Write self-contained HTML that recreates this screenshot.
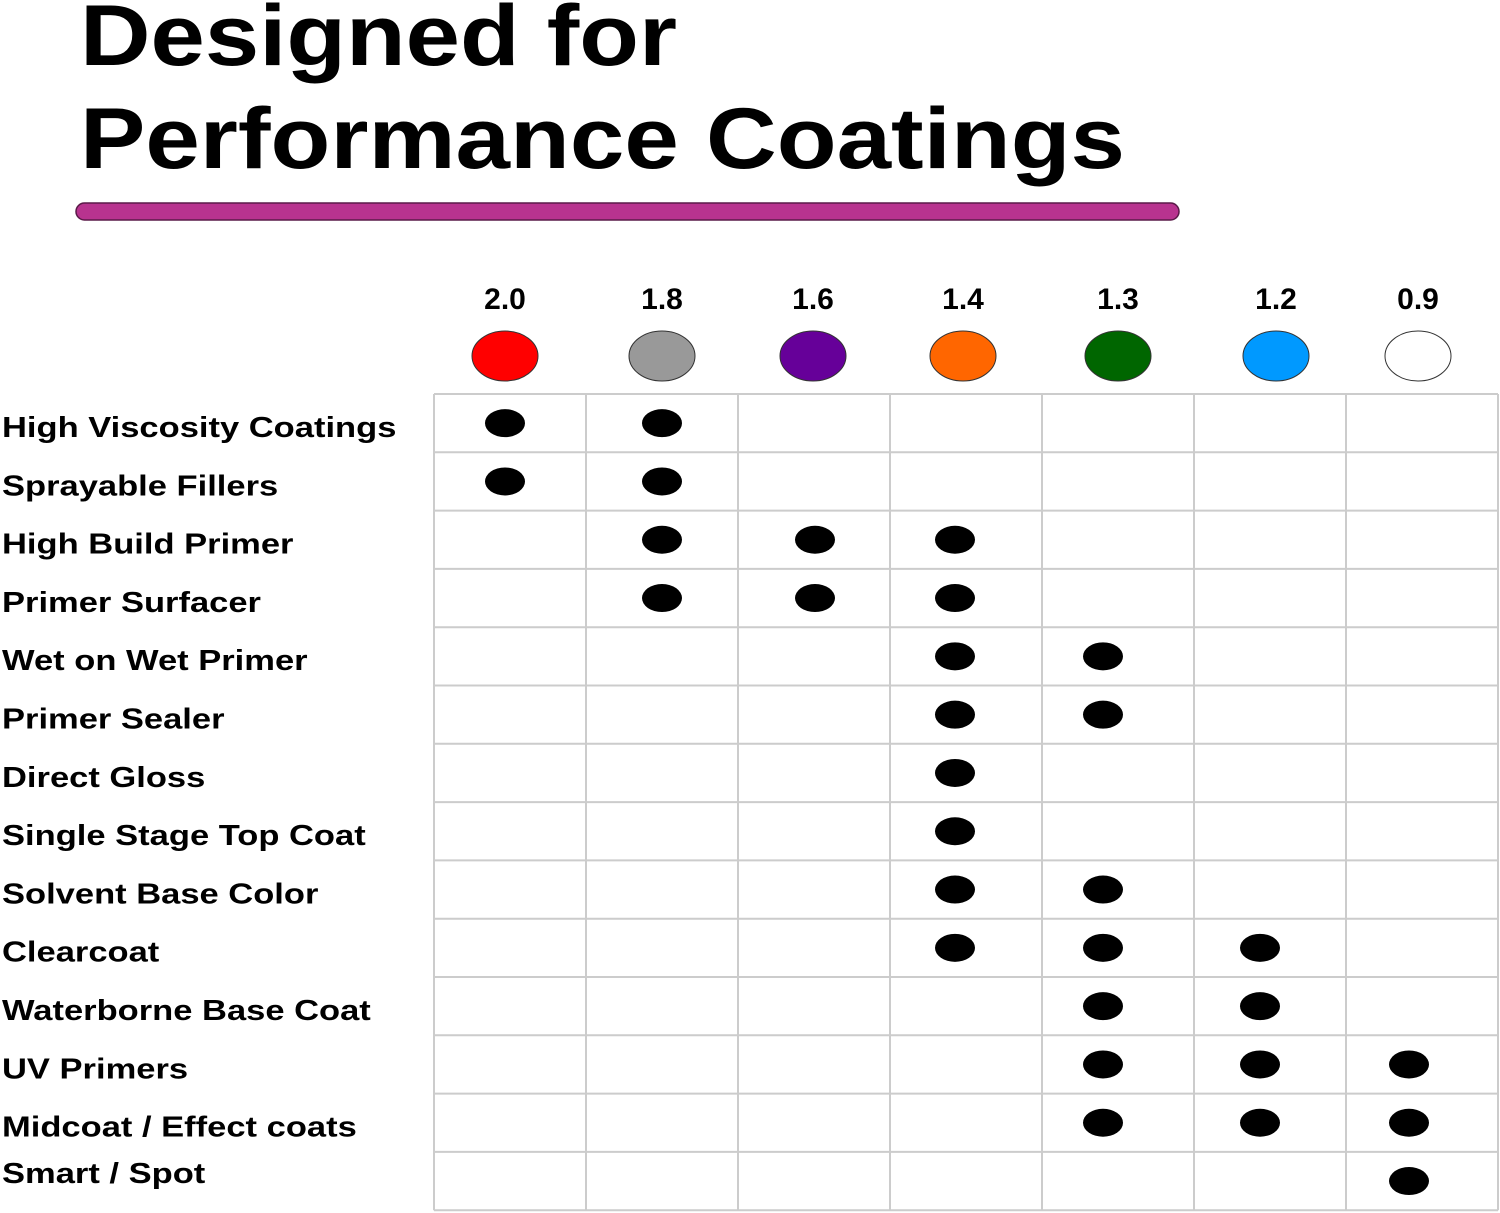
<!DOCTYPE html>
<html><head><meta charset="utf-8"><style>
html,body{margin:0;padding:0;background:#fff;}
svg{display:block;}
text{font-family:"Liberation Sans",sans-serif;font-weight:bold;fill:#000;}
</style></head><body>
<svg id="chart" width="1500" height="1213" viewBox="0 0 1500 1213" xmlns="http://www.w3.org/2000/svg">
<text x="80" y="65" font-size="86" textLength="597" lengthAdjust="spacingAndGlyphs">Designed for</text>
<text x="80" y="168" font-size="86" textLength="1045" lengthAdjust="spacingAndGlyphs">Performance Coatings</text>
<rect x="76" y="203" width="1103" height="17" rx="8.5" fill="#b8338f" stroke="#5a1a48" stroke-width="1.5"/>
<g id="grid"></g>
<g id="heads"></g>
<g id="rows"></g>
<g id="dots"></g>
</svg>
<script>
const sizes = ["2.0","1.8","1.6","1.4","1.3","1.2","0.9"];
const sizeColors = ["#ff0000","#999999","#660099","#ff6600","#006600","#0099ff","#ffffff"];
const coatings = ["High Viscosity Coatings","Sprayable Fillers","High Build Primer","Primer Surfacer","Wet on Wet Primer","Primer Sealer","Direct Gloss","Single Stage Top Coat","Solvent Base Color","Clearcoat","Waterborne Base Coat","UV Primers","Midcoat / Effect coats","Smart / Spot"];
const matrix = [
 [1,1,0,0,0,0,0],
 [1,1,0,0,0,0,0],
 [0,1,1,1,0,0,0],
 [0,1,1,1,0,0,0],
 [0,0,0,1,1,0,0],
 [0,0,0,1,1,0,0],
 [0,0,0,1,0,0,0],
 [0,0,0,1,0,0,0],
 [0,0,0,1,1,0,0],
 [0,0,0,1,1,1,0],
 [0,0,0,0,1,1,0],
 [0,0,0,0,1,1,1],
 [0,0,0,0,1,1,1],
 [0,0,0,0,0,0,1]
];
const NS="http://www.w3.org/2000/svg";
const gx0=434, colW=152, gy0=394, rowH=58.3;
const colX = i => gx0 + colW*i;
const rowY = j => gy0 + rowH*j;
const headOff = [-5,0,-1,-3,0,6,-4];
const dotOff = [-5,0,1,-11,-15,-10,-13];
function mk(tag, attrs, parent){const e=document.createElementNS(NS,tag);for(const k in attrs)e.setAttribute(k,attrs[k]);parent.appendChild(e);return e;}
const grid=document.getElementById('grid');
for(let i=0;i<=sizes.length;i++){
  const l=mk('line',{x1:colX(i),x2:colX(i),y1:gy0,y2:rowY(coatings.length),stroke:'#cccccc','stroke-width':2},grid);
  
  
}
for(let j=0;j<=coatings.length;j++){
  const l=mk('line',{x1:gx0,x2:colX(sizes.length),y1:rowY(j),y2:rowY(j),stroke:'#cccccc','stroke-width':2},grid);
  
  
}
const heads=document.getElementById('heads');
sizes.forEach((s,i)=>{
  const cx=colX(i)+colW/2+headOff[i];
  const t=mk('text',{x:cx,y:309,'font-size':30,'text-anchor':'middle'},heads);
  t.textContent=s;
  
  
  const c=mk('ellipse',{cx:cx,cy:356,rx:33,ry:25,fill:sizeColors[i],stroke:'#333','stroke-width':1},heads);
  
  
});
const rows=document.getElementById('rows');
coatings.forEach((c,j)=>{
  const y = j===coatings.length-1 ? rowY(j)+31 : rowY(j)+43;
  const t=mk('text',{x:2,y:y,'font-size':29},rows);
  t.textContent=c;
  
  
  const w=t.getComputedTextLength();
  t.setAttribute('textLength',(w*1.19).toFixed(1));
  t.setAttribute('lengthAdjust','spacingAndGlyphs');
});
const dots=document.getElementById('dots');
matrix.forEach((r,j)=>r.forEach((v,i)=>{
  if(!v)return;
  const d=mk('ellipse',{cx:colX(i)+colW/2+dotOff[i],cy:rowY(j)+rowH/2,rx:20,ry:14,fill:'#000'},dots);
  
  
}));
</script>
</body></html>
